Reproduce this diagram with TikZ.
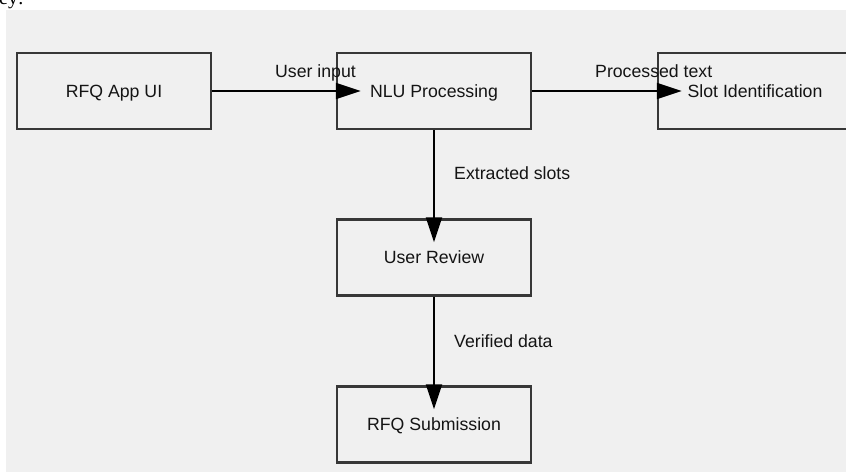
\documentclass[tikz,border=0pt]{standalone}
\usepackage{fontspec}
\setmainfont{Liberation Sans}
\newfontfamily\serifcut{Liberation Serif}
\usetikzlibrary{arrows.meta}
\definecolor{bggray}{RGB}{240,240,240}
\definecolor{boxline}{RGB}{55,55,55}
\definecolor{txt}{RGB}{20,20,20}
\tikzset{
  stepbox/.style={draw=boxline, line width=2.4bp, fill=bggray, minimum width=194bp, minimum height=76bp,
    inner sep=0pt, text height=12.7bp, text depth=0pt, text=txt, font=\fontsize{17.7bp}{20bp}\selectfont},
  flowlabel/.style={anchor=base west, inner sep=0pt, text=txt, font=\fontsize{17.7bp}{20bp}\selectfont},
  flow/.style={draw=black, line width=2bp, -{Triangle[length=25bp, width=16bp]}}
}
\begin{document}
\begin{tikzpicture}[x=1bp, y=-1bp]
\clip (0,0) rectangle (846,472);
\fill[white] (0,0) rectangle (846,472);
\fill[bggray] (6,10) rectangle (846,472);
\node[anchor=base west, inner sep=0pt, font=\serifcut\fontsize{20bp}{22bp}\selectfont] (cut) at (-1,5) {ey:};

\node[stepbox] (app) at (114,91) {RFQ App UI};
\node[stepbox] (nlu) at (434,91) {NLU Processing};
\node[stepbox] (slot) at (755,91) {Slot Identification};
\node[stepbox] (rev) at (434,257.5) {User Review};
\node[stepbox] (sub) at (434,424.5) {RFQ Submission};

\draw[flow] (app.east) -- ([xshift=25bp]nlu.west);
\draw[flow] (nlu.east) -- ([xshift=25bp]slot.west);
\draw[flow] (nlu.south) -- ([yshift=-24bp]rev.north);
\draw[flow] (rev.south) -- ([yshift=-24bp]sub.north);

\node[flowlabel] (l1) at (275,78) {User input};
\node[flowlabel] (l2) at (595,78) {Processed text};
\node[flowlabel] (l3) at (454,180) {Extracted slots};
\node[flowlabel] (l4) at (454,348) {Verified data};
\end{tikzpicture}
\end{document}
